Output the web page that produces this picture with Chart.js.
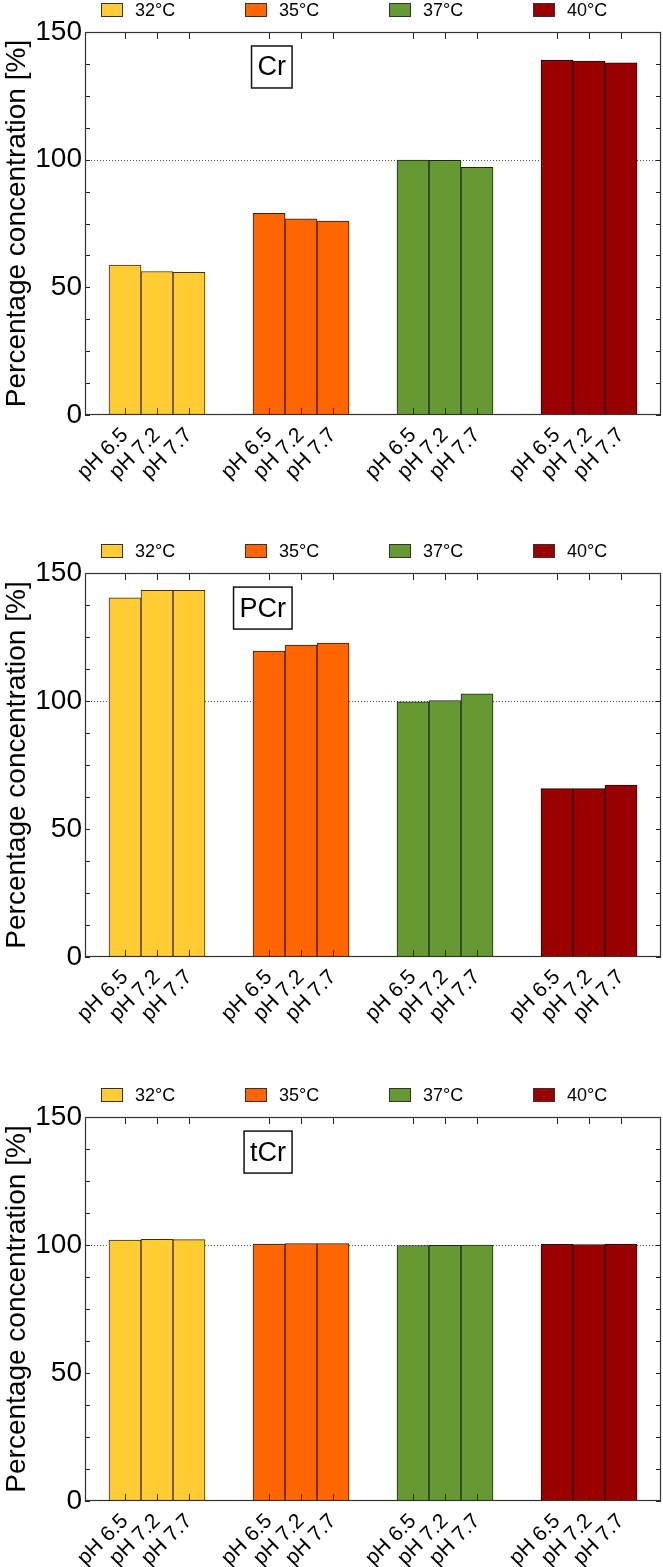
<!DOCTYPE html>
<html>
<head>
<meta charset="utf-8">
<script src="https://cdn.jsdelivr.net/npm/chart.js@4.4.1/dist/chart.umd.min.js"></script>
<style>
html,body{margin:0;padding:0;background:#fff;}
body{width:663px;height:1567px;position:relative;overflow:hidden;}
.panel{position:absolute;left:0;width:663px;}
canvas{display:block;}
</style>
</head>
<body>
<div class="panel" style="top:0px;"><canvas id="c1" width="663" height="541"></canvas></div>
<div class="panel" style="top:541px;"><canvas id="c2" width="663" height="544"></canvas></div>
<div class="panel" style="top:1085px;"><canvas id="c3" width="663" height="482"></canvas></div>
<script>
// ---- data ----
const temperatures = ['32°C', '35°C', '37°C', '40°C'];
const phLabels = ['pH 6.5', 'pH 7.2', 'pH 7.7'];
const yTickLabels = [0, 50, 100, 150];
const referenceLevel = 100;
// values per temperature group: [pH 6.5, pH 7.2, pH 7.7]
const crValues  = [[58.7, 56.2, 55.9], [79.0, 76.8, 75.9], [99.8, 99.7, 97.0], [139.0, 138.6, 137.9]];
const pcrValues = [[140.3, 143.2, 143.2], [119.5, 121.8, 122.6], [99.7, 100.2, 102.8], [65.8, 65.8, 67.2]];
const tcrValues = [[101.9, 102.2, 102.1], [100.4, 100.6, 100.6], [99.8, 99.9, 100.0], [100.3, 100.2, 100.4]];
const panelNames = ['Cr', 'PCr', 'tCr'];

// ---- styling ----
const fills = ['#FFCC33', '#FF6600', '#669933', '#990000'];
const edges = ['#3a2f10', '#3a1a05', '#1d2a10', '#2a0000'];
const FONT = '"Liberation Sans", Arial, Helvetica, sans-serif';
const groupStep = 4.5, groupOffset = 0.75, xMax = 18;
const slotCenter = (g, i) => g * groupStep + groupOffset + i + 0.5;
const tickPositions = [];
temperatures.forEach((t, g) => phLabels.forEach((p, i) => tickPositions.push(slotCenter(g, i))));

const framePlugin = {
  id: 'frame',
  beforeDatasetsDraw(chart) {
    const {ctx, chartArea: a} = chart;
    const y = chart.scales.y;
    const py = Math.round(y.getPixelForValue(referenceLevel)) + 0.5;
    ctx.save();
    ctx.strokeStyle = '#555';
    ctx.lineWidth = 1;
    ctx.setLineDash([1, 2]);
    ctx.beginPath(); ctx.moveTo(a.left, py); ctx.lineTo(a.right, py); ctx.stroke();
    ctx.restore();
  },
  afterDatasetsDraw(chart, args, opts) {
    const {ctx, chartArea: a} = chart;
    const x = chart.scales.x, y = chart.scales.y;
    ctx.save();
    ctx.strokeStyle = '#222';
    ctx.lineWidth = 1;
    ctx.beginPath();
    y.ticks.forEach((t, i) => {
      const py = Math.round(y.getPixelForTick(i)) + 0.5;
      ctx.moveTo(a.left, py); ctx.lineTo(a.left + 5, py);
      ctx.moveTo(a.right - 5, py); ctx.lineTo(a.right, py);
    });
    x.ticks.forEach((t, i) => {
      const px = Math.round(x.getPixelForTick(i)) + 0.5;
      ctx.moveTo(px, a.bottom); ctx.lineTo(px, a.bottom - 7);
      ctx.moveTo(px, a.top); ctx.lineTo(px, a.top + 7);
    });
    ctx.stroke();
    ctx.strokeStyle = '#333';
    ctx.lineWidth = 1.2;
    ctx.strokeRect(a.left + 0.5, a.top + 0.5, a.right - a.left - 1, a.bottom - a.top - 1);

    // name box
    ctx.font = '27px ' + FONT;
    const tw = ctx.measureText(opts.name).width;
    const rightPx = x.getPixelForValue(6.47);
    const cy = y.getPixelForValue(136.3);
    const bw = tw + 12, bh = 42;
    ctx.fillStyle = '#fff';
    ctx.fillRect(rightPx - bw, cy - bh / 2, bw, bh);
    ctx.strokeStyle = '#111';
    ctx.lineWidth = 1.5;
    ctx.strokeRect(rightPx - bw, cy - bh / 2, bw, bh);
    ctx.fillStyle = '#000';
    ctx.textAlign = 'center';
    ctx.textBaseline = 'middle';
    ctx.fillText(opts.name, rightPx - bw / 2, cy + 1);
    ctx.restore();
  },
  afterDraw(chart) {
    const {ctx, chartArea: a} = chart;
    ctx.save();
    const cy = a.top - 22;
    ctx.font = '18px ' + FONT;
    ctx.textBaseline = 'middle';
    ctx.textAlign = 'left';
    chart.data.datasets.forEach((ds, i) => {
      const bx = 101 + i * 144;
      ctx.fillStyle = ds.backgroundColor;
      ctx.fillRect(bx, cy - 7, 22, 14);
      ctx.strokeStyle = '#333';
      ctx.lineWidth = 1;
      ctx.strokeRect(bx + 0.5, cy - 6.5, 21, 13);
      ctx.fillStyle = '#000';
      ctx.fillText(ds.label, bx + 34, cy + 1);
    });
    ctx.restore();
  }
};

function buildChart(id, values, name, bottomHeight) {
  const datasets = temperatures.map((t, g) => ({
    label: t,
    xAxisID: 'x',
    yAxisID: 'y',
    data: values[g].map((v, i) => ({x: slotCenter(g, i), y: v})),
    backgroundColor: fills[g],
    borderColor: edges[g],
    borderWidth: 1,
    borderSkipped: false,
    grouped: false,
    barPercentage: 1,
    categoryPercentage: 1
  }));
  return new Chart(document.getElementById(id), {
    type: 'bar',
    data: {datasets},
    plugins: [framePlugin],
    options: {
      responsive: false,
      animation: false,
      layout: {padding: {left: 0, right: 2, top: 0, bottom: 0}},
      plugins: {
        legend: {display: false},
        tooltip: {enabled: false},
        frame: {name}
      },
      scales: {
        x: {
          type: 'linear',
          position: 'bottom',
          offset: false,
          min: 0,
          max: xMax,
          grid: {display: false, drawTicks: false, offset: false},
          border: {display: false},
          afterBuildTicks: (s) => { s.ticks = tickPositions.map(v => ({value: v})); },
          afterFit: (s) => { s.height = bottomHeight; },
          ticks: {
            autoSkip: false,
            minRotation: 45,
            maxRotation: 45,
            padding: 8,
            color: '#000',
            font: {family: FONT, size: 21},
            callback: (v, i) => phLabels[i % phLabels.length]
          }
        },
        xTop: {
          type: 'linear',
          position: 'top',
          min: 0,
          max: 1,
          grid: {display: false, drawTicks: false},
          border: {display: false},
          ticks: {display: false},
          afterFit: (s) => { s.height = 32; }
        },
        y: {
          type: 'linear',
          position: 'left',
          min: 0,
          max: 150,
          grid: {display: false, drawTicks: false},
          border: {display: false},
          afterFit: (s) => { s.width = 85; },
          title: {
            display: true,
            text: 'Percentage concentration [%]',
            color: '#000',
            font: {family: FONT, size: 28},
            padding: {top: 0, bottom: 0}
          },
          ticks: {
            autoSkip: false,
            stepSize: 12.5,
            padding: 3,
            color: '#000',
            font: {family: FONT, size: 28},
            callback: (v) => yTickLabels.includes(v) ? String(v) : ''
          }
        }
      }
    }
  });
}

buildChart('c1', crValues, panelNames[0], 126);
buildChart('c2', pcrValues, panelNames[1], 128);
buildChart('c3', tcrValues, panelNames[2], 66);
</script>
</body>
</html>
